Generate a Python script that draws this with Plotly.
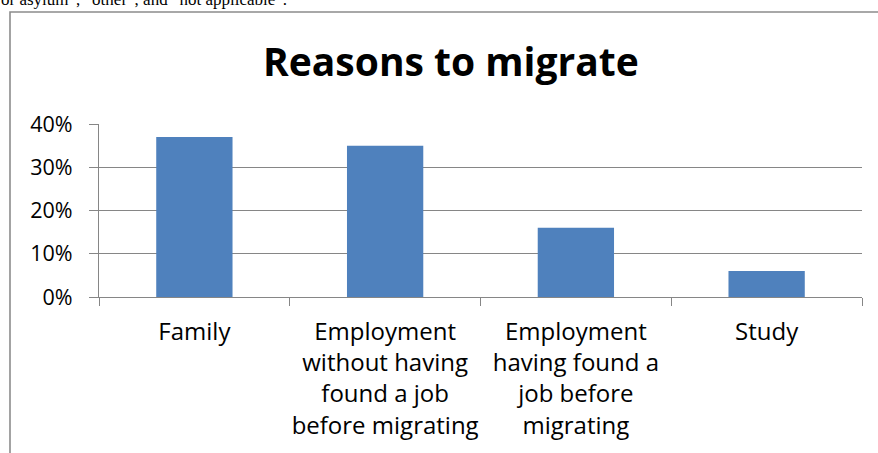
import plotly.graph_objects as go

categories = ["Family",
              "Employment<br>without having<br>found a job<br>before migrating",
              "Employment<br>having found a<br>job before<br>migrating",
              "Study"]
values = [0.37, 0.35, 0.16, 0.06]
y_ticks = [0, 0.1, 0.2, 0.3, 0.4]
y_tick_labels = ["0%", "10%", "20%", "30%", "40%"]
title_text = "Reasons to migrate"
top_text = "or asylum\u201d, \u201cother\u201d, and \u201cnot applicable\u201d."

W, H = 878, 453
L, R, T, B = 99, 862, 124, 297

def px_x(p):
    return (p - L) / (R - L)

def px_y(p):
    return (B - p) / (B - T)

FONT = "Open Sans, sans-serif"
GRID = "#868686"

fig = go.Figure(go.Bar(
    x=categories, y=values,
    marker=dict(color="#4F81BD", line=dict(width=0)),
    width=0.4,
))

fig.update_layout(
    width=W, height=H,
    margin=dict(l=L, r=W - R, t=T, b=H - B),
    paper_bgcolor="white", plot_bgcolor="white",
    showlegend=False,
    bargap=0.6,
    font=dict(family=FONT, color="black"),
)

fig.update_yaxes(
    range=[0, 0.4], tickvals=y_ticks, ticktext=y_tick_labels,
    showgrid=True, gridcolor=GRID, gridwidth=1.3,
    showline=True, linecolor=GRID, linewidth=1.3,
    ticks="outside", ticklen=9, tickcolor=GRID, tickwidth=1.3,
    tickfont=dict(size=21.5, family=FONT),
    ticklabelstandoff=12,
    zeroline=False, fixedrange=True,
)
fig.update_xaxes(
    showline=True, linecolor=GRID, linewidth=1.3,
    ticks="outside", tickson="boundaries", ticklen=8, tickcolor=GRID, tickwidth=1.3,
    tickfont=dict(size=24, family=FONT),
    ticklabelstandoff=13,
    tickangle=0, fixedrange=True,
)

# Title
fig.add_annotation(
    text="<b>" + title_text + "</b>", xref="paper", yref="paper",
    x=(451 - L) / (R - L), y=px_y(60), xanchor="center", yanchor="middle",
    showarrow=False, font=dict(size=39, family=FONT, color="black"),
)

# Clipped document text above the chart frame
fig.add_annotation(
    text=top_text, xref="paper", yref="paper",
    x=px_x(-1), y=px_y(-1), xanchor="left", yanchor="middle",
    showarrow=False, font=dict(size=17, family="Liberation Serif, serif", color="black"),
)

# Chart frame
fig.add_shape(
    type="rect", xref="paper", yref="paper",
    x0=px_x(10), x1=px_x(900), y0=px_y(470), y1=px_y(12),
    line=dict(color="#8c8c8c", width=1.6), fillcolor="rgba(0,0,0,0)",
    layer="below",
)

fig.write_html("out.html")
